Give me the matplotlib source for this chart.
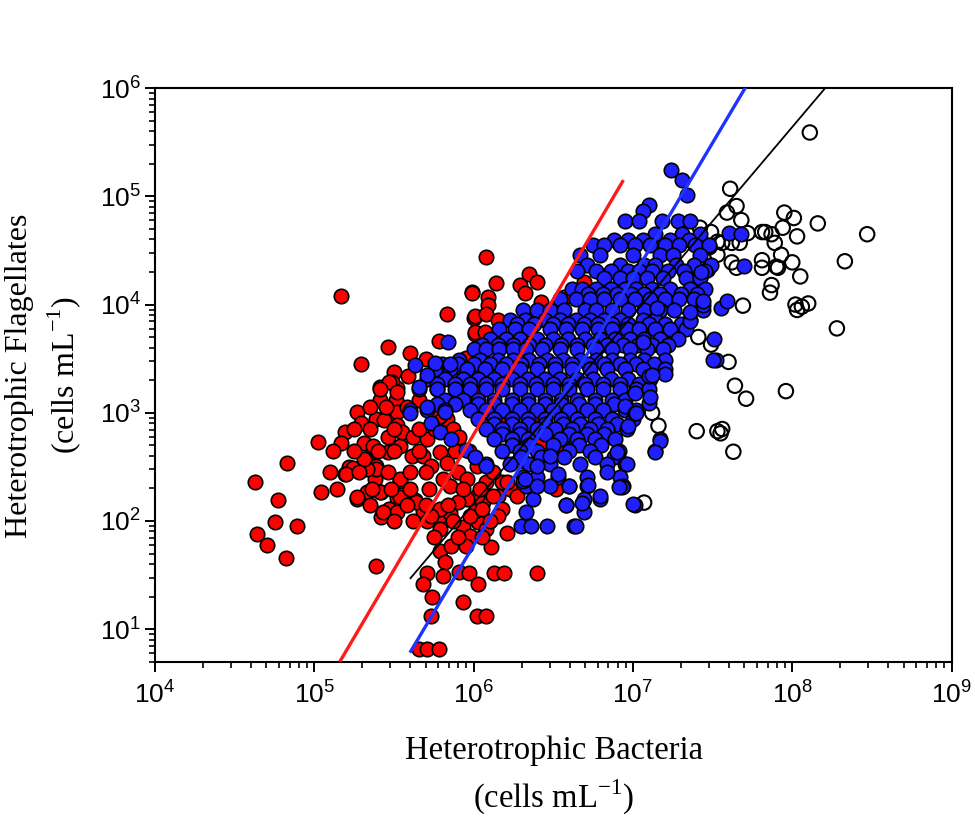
import numpy as np
import matplotlib
matplotlib.use("Agg")
import matplotlib.pyplot as plt
from matplotlib.ticker import LogLocator, FuncFormatter, NullFormatter

plt.rcParams['font.family'] = ['Liberation Serif', 'DejaVu Serif']
plt.rcParams['mathtext.fontset'] = 'custom'
plt.rcParams['mathtext.rm'] = 'Liberation Serif'
plt.rcParams['mathtext.sf'] = 'Liberation Sans'

# (log10 bacteria, log10 flagellates), cells mL-1
red_pts = [
    (5.17, 4.08), (5.46, 3.61), (5.29, 3.45), (5.99, 4.12), (5.83, 3.91), (6.00, 3.88), (6.01, 3.73),
    (5.78, 3.66), (5.95, 3.51), (5.50, 3.38), (5.59, 3.34), (5.80, 3.35), (5.41, 3.24), (5.52, 3.23),
    (5.41, 3.12), (5.51, 3.12), (5.27, 3.01), (5.29, 2.91), (5.39, 2.94), (5.44, 2.93), (5.19, 2.82),
    (5.02, 2.73), (5.17, 2.72), (5.31, 2.72), (5.37, 2.69), (5.46, 2.64), (5.54, 2.69), (4.83, 2.54),
    (5.33, 2.57), (5.22, 2.50), (4.63, 2.36), (4.77, 2.19), (5.04, 2.27), (5.27, 2.20), (4.75, 1.99),
    (4.89, 1.95), (4.64, 1.88), (4.70, 1.78), (4.82, 1.66), (5.39, 1.58), (5.19, 2.43), (5.24, 2.49),
    (5.32, 2.57), (5.39, 2.51), (5.38, 2.39), (5.42, 2.27), (5.52, 2.21), (5.47, 2.11), (5.42, 2.04),
    (5.54, 2.37), (5.63, 2.19), (5.68, 2.09), (5.71, 2.00), (5.78, 2.04), (5.79, 1.93), (5.85, 2.07),
    (5.79, 1.72), (5.82, 1.62), (5.71, 1.52), (5.68, 1.42), (5.81, 1.49), (5.74, 1.30), (5.73, 1.12),
    (5.91, 1.53), (5.97, 1.52), (5.86, 1.77), (5.93, 1.94), (5.98, 1.86), (6.03, 1.99), (5.95, 1.77),
    (6.03, 1.42), (5.93, 1.25), (6.02, 1.12), (6.08, 1.12), (6.11, 1.76), (6.08, 1.93), (6.21, 1.89),
    (6.13, 1.52), (6.19, 1.52), (6.40, 1.52), (5.66, 0.82), (5.71, 0.82), (5.78, 0.82), (6.06, 2.18),
    (6.15, 2.23), (6.18, 2.36), (6.23, 2.30), (6.01, 2.09), (6.52, 2.30), (6.42, 2.96), (6.43, 2.73),
    (6.56, 2.68), (6.08, 4.44), (6.14, 4.20), (5.99, 4.11), (6.09, 4.07), (6.09, 4.00), (6.01, 3.89),
    (6.08, 3.91), (6.15, 3.86), (6.29, 4.18), (6.35, 4.28), (6.40, 4.21), (6.32, 4.11), (6.42, 4.02),
    (6.57, 4.07), (6.69, 4.21), (6.01, 3.75), (6.07, 3.75),
    (5.49, 3.28), (5.52, 3.01), (5.52, 2.89), (5.46, 2.78), (5.55, 2.82), (5.62, 2.78), (5.61, 2.60),
    (5.71, 2.76), (5.68, 2.60), (5.73, 2.51), (5.79, 2.64), (5.83, 2.94), (5.87, 2.85), (5.91, 2.78),
    (5.83, 2.54), (5.90, 2.45), (5.81, 2.39), (5.85, 2.32), (5.96, 2.39), (6.02, 2.51), (6.08, 2.36),
    (6.12, 2.23), (6.02, 2.23), (5.96, 2.20), (5.90, 2.18), (5.79, 2.11), (5.73, 2.05), (5.64, 2.18),
    (5.54, 2.22), (5.52, 2.08), (5.43, 2.08), (5.41, 2.27), (5.33, 2.27), (5.27, 2.22), (5.39, 2.48),
    (5.33, 2.48), (5.31, 2.57), (5.20, 2.43), (5.54, 2.39), (6.18, 2.11), (6.21, 2.36), (6.27, 2.23),
    (6.15, 2.05), (5.98, 2.05), (6.05, 2.11), (5.79, 2.97), (5.73, 3.03), (5.66, 3.12), (5.77, 3.22),
    (5.79, 3.34), (5.47, 3.28), (5.41, 3.22), (5.52, 3.19),
    (5.70, 3.50), (5.60, 3.55), (5.90, 3.30), (6.00, 3.20), (6.10, 3.00), (6.20, 2.90), (6.25, 2.70),
    (6.30, 2.55), (6.35, 2.35),
    (5.35, 3.05), (5.45, 3.05), (5.58, 3.05), (5.25, 2.85), (5.35, 2.85), (5.50, 2.85), (5.66, 2.85),
    (5.76, 2.85), (5.12, 2.65), (5.25, 2.65), (5.40, 2.65), (5.50, 2.65), (5.66, 2.65), (5.88, 2.65),
    (5.97, 2.65), (5.10, 2.45), (5.28, 2.45), (5.46, 2.45), (5.60, 2.45), (5.70, 2.45), (6.12, 2.45),
    (5.14, 2.30), (5.36, 2.30), (5.48, 2.30), (5.60, 2.30), (5.72, 2.30), (5.93, 2.30), (6.04, 2.30),
    (5.35, 2.15), (5.58, 2.15), (5.70, 2.15), (5.84, 2.15), (5.50, 2.00), (5.62, 2.00), (5.87, 2.00),
    (6.10, 2.00), (5.75, 1.85), (5.90, 1.85), (6.05, 1.85),
]

blue_pts = [
    (7.24, 5.24), (7.31, 5.15), (7.34, 5.01), (7.10, 4.92), (7.06, 4.86),
    (6.95, 4.77), (7.04, 4.77), (7.18, 4.77), (7.28, 4.77), (7.36, 4.77),
    (7.14, 4.65), (7.31, 4.65), (7.42, 4.65),
    (6.88, 4.60), (6.97, 4.60), (7.06, 4.60), (7.23, 4.60), (7.35, 4.60),
    (6.75, 4.55), (6.82, 4.55), (6.92, 4.55), (7.01, 4.55), (7.11, 4.55), (7.20, 4.55), (7.29, 4.55),
    (7.39, 4.55), (7.48, 4.55),
    (6.67, 4.46), (6.79, 4.46), (7.00, 4.46), (7.17, 4.46), (7.25, 4.46), (7.42, 4.46),
    (6.71, 4.37), (6.92, 4.37), (7.07, 4.37), (7.14, 4.37), (7.27, 4.37), (7.38, 4.37), (7.49, 4.37),
    (6.65, 4.31), (6.77, 4.31), (6.86, 4.31), (6.97, 4.31), (7.04, 4.31), (7.12, 4.31), (7.22, 4.31),
    (7.32, 4.31), (7.45, 4.31),
    (6.82, 4.25), (6.92, 4.25), (7.00, 4.25), (7.09, 4.25), (7.19, 4.25), (7.33, 4.25), (7.42, 4.25),
    (6.62, 4.14), (6.68, 4.14), (6.77, 4.14), (6.86, 4.14), (6.95, 4.14), (7.02, 4.14), (7.12, 4.14),
    (7.23, 4.14), (7.36, 4.14), (7.45, 4.14),
    (6.72, 4.10), (6.81, 4.10), (6.90, 4.10), (6.99, 4.10), (7.07, 4.10), (7.17, 4.10), (7.30, 4.10),
    (7.40, 4.10),
    (6.54, 4.05), (6.64, 4.05), (6.73, 4.05), (6.82, 4.05), (6.92, 4.05), (7.01, 4.05), (7.11, 4.05),
    (7.20, 4.05), (7.29, 4.05), (7.38, 4.05),
    (6.31, 3.95), (6.40, 3.95), (6.48, 3.95), (6.57, 3.95), (6.70, 3.95), (6.77, 3.95), (6.87, 3.95),
    (6.97, 3.95), (7.07, 3.95), (7.17, 3.95), (7.26, 3.95), (7.44, 3.95),
    (6.23, 3.86), (6.32, 3.86), (6.45, 3.86), (6.54, 3.86), (6.64, 3.86), (6.73, 3.86), (6.82, 3.86),
    (6.92, 3.86), (7.06, 3.86), (7.14, 3.86), (7.36, 3.86),
    (6.27, 3.82), (6.38, 3.82), (6.50, 3.82), (6.59, 3.82), (6.69, 3.82), (6.78, 3.82), (6.87, 3.82),
    (6.97, 3.82), (7.10, 3.82), (7.20, 3.82), (7.30, 3.82),
    (6.16, 3.77), (6.26, 3.77), (6.35, 3.77), (6.48, 3.77), (6.58, 3.77), (6.68, 3.77), (6.78, 3.77),
    (6.87, 3.77), (6.96, 3.77), (7.04, 3.77), (7.14, 3.77), (7.23, 3.77), (7.33, 3.77),
    (6.10, 3.68), (6.20, 3.68), (6.29, 3.68), (6.40, 3.68), (6.50, 3.68), (6.59, 3.68), (6.70, 3.68),
    (6.79, 3.68), (6.89, 3.68), (6.98, 3.68), (7.07, 3.68), (7.17, 3.68), (7.28, 3.68), (7.51, 3.68),
    (6.05, 3.63), (6.15, 3.63), (6.25, 3.63), (6.35, 3.63), (6.45, 3.63), (6.55, 3.63), (6.65, 3.63),
    (6.75, 3.63), (6.84, 3.63), (6.94, 3.63), (7.03, 3.63), (7.12, 3.63), (7.22, 3.63),
    (6.00, 3.59), (6.08, 3.59), (6.16, 3.59), (6.25, 3.59), (6.33, 3.59), (6.43, 3.59), (6.54, 3.59),
    (6.65, 3.59), (6.77, 3.59), (6.87, 3.59), (6.98, 3.59), (7.09, 3.59), (7.19, 3.59),
    (5.91, 3.49), (6.04, 3.49), (6.15, 3.49), (6.25, 3.49), (6.35, 3.49), (6.46, 3.49), (6.56, 3.49),
    (6.67, 3.49), (6.77, 3.49), (6.87, 3.49), (6.98, 3.49), (7.07, 3.49), (7.20, 3.49), (7.52, 3.49),
    (5.80, 3.45), (5.90, 3.45), (6.00, 3.45), (6.10, 3.45), (6.20, 3.45), (6.30, 3.45), (6.41, 3.45),
    (6.51, 3.45), (6.62, 3.45), (6.72, 3.45), (6.82, 3.45), (6.92, 3.45), (7.02, 3.45), (7.13, 3.45),
    (5.76, 3.40), (5.85, 3.40), (5.96, 3.40), (6.07, 3.40), (6.18, 3.40), (6.29, 3.40), (6.40, 3.40),
    (6.51, 3.40), (6.62, 3.40), (6.73, 3.40), (6.84, 3.40), (6.95, 3.40), (7.06, 3.40), (7.20, 3.40),
    (5.71, 3.31), (5.82, 3.31), (5.93, 3.31), (6.03, 3.31), (6.13, 3.31), (6.24, 3.31), (6.34, 3.31),
    (6.45, 3.31), (6.54, 3.31), (6.65, 3.31), (6.75, 3.31), (6.86, 3.31), (6.97, 3.31), (7.11, 3.31),
    (5.77, 3.27), (5.88, 3.27), (5.98, 3.27), (6.08, 3.27), (6.18, 3.27), (6.29, 3.27), (6.39, 3.27),
    (6.50, 3.27), (6.60, 3.27), (6.70, 3.27), (6.81, 3.27), (6.92, 3.27), (7.04, 3.27),
    (5.66, 3.22), (5.77, 3.22), (5.88, 3.22), (5.98, 3.22), (6.08, 3.22), (6.18, 3.22), (6.29, 3.22),
    (6.40, 3.22), (6.50, 3.22), (6.60, 3.22), (6.71, 3.22), (6.81, 3.22), (6.92, 3.22), (7.02, 3.22),
    (7.10, 3.22),
    (5.82, 3.12), (5.93, 3.12), (6.03, 3.12), (6.13, 3.12), (6.24, 3.12), (6.34, 3.12), (6.45, 3.12),
    (6.55, 3.12), (6.65, 3.12), (6.76, 3.12), (6.87, 3.12), (6.95, 3.12),
    (5.77, 3.08), (5.88, 3.08), (6.03, 3.08), (6.13, 3.08), (6.24, 3.08), (6.34, 3.08), (6.45, 3.08),
    (6.55, 3.08), (6.66, 3.08), (6.76, 3.08), (6.88, 3.08),
    (5.60, 3.03), (5.71, 3.03), (5.82, 3.03), (5.98, 3.03), (6.08, 3.03), (6.18, 3.03), (6.29, 3.03),
    (6.40, 3.03), (6.50, 3.03), (6.60, 3.03), (6.71, 3.03), (6.81, 3.03), (6.95, 3.03), (7.02, 3.03),
    (6.03, 2.94), (6.13, 2.94), (6.24, 2.94), (6.34, 2.94), (6.45, 2.94), (6.55, 2.94), (6.65, 2.94),
    (6.76, 2.94), (6.87, 2.94), (7.00, 2.94),
    (6.13, 2.90), (6.24, 2.90), (6.34, 2.90), (6.45, 2.90), (6.56, 2.90), (6.67, 2.90), (6.78, 2.90),
    (6.90, 2.90),
    (6.08, 2.85), (6.18, 2.85), (6.29, 2.85), (6.40, 2.85), (6.51, 2.85), (6.62, 2.85), (6.73, 2.85),
    (6.84, 2.85), (6.96, 2.85),
    (6.18, 2.80), (6.29, 2.80), (6.45, 2.80), (6.60, 2.80), (6.71, 2.80), (6.82, 2.80),
    (6.13, 2.76), (6.24, 2.76), (6.34, 2.76), (6.54, 2.76), (6.65, 2.76), (6.76, 2.76), (6.89, 2.76),
    (7.17, 2.76),
    (6.24, 2.70), (6.35, 2.70), (6.50, 2.70), (6.66, 2.70), (6.80, 2.70),
    (6.18, 2.65), (6.29, 2.65), (6.40, 2.65), (6.60, 2.65), (6.73, 2.65), (6.91, 2.65), (7.14, 2.65),
    (6.30, 2.59), (6.42, 2.59), (6.57, 2.59), (6.76, 2.59), (6.88, 2.59),
    (6.08, 2.53), (6.23, 2.53), (6.35, 2.53), (6.48, 2.53), (6.67, 2.53), (6.84, 2.53), (6.95, 2.53),
    (6.31, 2.41), (6.40, 2.41), (6.53, 2.41), (6.71, 2.41), (6.92, 2.41),
    (6.33, 2.32), (6.48, 2.32), (6.60, 2.32), (6.71, 2.32), (6.94, 2.32),
    (6.37, 2.20), (6.69, 2.20), (6.79, 2.20), (6.58, 2.15), (7.01, 2.15), (6.33, 2.08), (6.69, 2.08),
    (6.30, 1.95), (6.36, 1.95), (6.46, 1.95), (6.63, 1.95),
    (7.10, 3.34), (7.20, 3.36), (7.10, 3.09), (7.01, 3.18), (6.95, 3.06), (7.01, 3.00), (6.97, 2.88),
    (7.17, 2.74), (7.14, 2.64), (6.96, 2.53), (6.93, 2.31), (7.00, 2.16), (7.06, 3.65), (7.15, 3.97),
    (7.44, 4.00), (7.55, 3.97), (7.36, 3.85), (7.60, 4.66), (7.68, 4.65), (7.70, 4.36), (7.43, 4.30),
    (7.44, 4.03), (7.59, 4.03), (7.36, 3.93), (5.84, 3.65), (5.63, 3.44), (5.76, 3.46), (5.85, 3.45),
    (5.71, 3.35), (5.66, 3.24), (5.60, 3.00), (5.71, 3.05), (5.82, 3.01), (5.73, 2.91), (5.79, 2.82),
    (5.86, 2.76), (5.95, 2.66), (6.01, 2.59), (6.08, 2.51), (6.31, 2.37), (6.40, 2.51), (6.48, 2.60),
    (6.40, 2.32), (6.53, 2.43), (7.12, 3.35), (7.11, 3.15), (7.02, 3.00), (6.90, 2.64), (6.84, 2.45),
    (6.91, 2.31), (6.79, 2.23), (6.72, 2.33), (6.60, 2.32), (6.58, 2.15), (6.68, 2.17), (6.64, 1.95),
    (6.32, 2.39), (7.50, 3.49),
]

open_pts = [
    (8.11, 5.59), (8.47, 4.65), (8.16, 4.75), (8.33, 4.40), (7.61, 5.07), (7.65, 4.91), (7.59, 4.85),
    (7.68, 4.78), (7.72, 4.66), (7.81, 4.67), (7.87, 4.65), (7.95, 4.85), (8.01, 4.80), (7.94, 4.71),
    (8.03, 4.63), (7.89, 4.57), (7.93, 4.46), (7.81, 4.41), (7.81, 4.34), (7.90, 4.35), (8.00, 4.39),
    (8.05, 4.26), (7.87, 4.18), (7.86, 4.11), (8.10, 4.01), (8.03, 3.95), (8.02, 4.00), (7.56, 4.57),
    (7.62, 4.57), (7.67, 4.57), (7.48, 4.53), (7.53, 4.46), (7.62, 4.39), (7.65, 4.34), (7.39, 4.23),
    (7.47, 4.32), (7.69, 3.99), (7.34, 3.97), (7.26, 3.74), (7.41, 3.70), (7.49, 3.63), (7.60, 3.47),
    (7.64, 3.25), (7.71, 3.13), (7.96, 3.20), (7.40, 2.83), (7.56, 2.85), (7.55, 2.81), (7.63, 2.64),
    (7.12, 3.00), (7.16, 2.88), (7.07, 2.17), (8.06, 3.98), (8.28, 3.78), (7.46, 4.53), (7.38, 4.26),
    (7.42, 4.26), (7.53, 4.58), (7.53, 2.83), (7.83, 4.67), (7.91, 4.34), (7.42, 4.71), (7.49, 4.67),
]

# regression lines: log F = slope * log B + intercept, over the plotted range of log B
fit_red = (2.50, -12.20, 5.16, 6.94)
fit_blue = (2.48, -13.105, 5.60, 7.71)
fit_all = (1.74, -8.279, 5.60, 8.21)

fig = plt.figure(figsize=(9.75, 8.16), dpi=100)
ax = fig.add_axes([0.159, 0.189, 0.817, 0.703])

mk = dict(s=108, edgecolors='black', linewidths=1.2)
ox, oy = np.array(open_pts).T
rx, ry = np.array(red_pts).T
bx, by = np.array(blue_pts).T
ax.scatter(10**ox, 10**oy, facecolors='none', zorder=2, s=108, edgecolors='black', linewidths=1.5)
ax.scatter(10**rx, 10**ry, facecolors='#ff0000', zorder=3, **mk)
ax.scatter(10**bx, 10**by, facecolors='#2020ff', zorder=4, **mk)

for (m, b, lo, hi), col, lw in [(fit_red, '#ff1a1a', 2.4), (fit_blue, '#1f33ff', 2.4), (fit_all, 'black', 1.3)]:
    lx = np.array([lo, hi])
    ax.plot(10**lx, 10**(m*lx + b), color=col, lw=lw, zorder=5, solid_capstyle='butt')

ax.set_xscale('log')
ax.set_yscale('log')
ax.set_xlim(1e4, 1e9)
ax.set_ylim(5, 1e6)

fmt = FuncFormatter(lambda v, pos: r'$\mathsf{10^{%d}}$' % round(np.log10(v)))
for axis in (ax.xaxis, ax.yaxis):
    axis.set_major_locator(LogLocator(base=10, numticks=20))
    axis.set_minor_locator(LogLocator(base=10, subs=np.arange(2, 10), numticks=20))
    axis.set_major_formatter(fmt)
    axis.set_minor_formatter(NullFormatter())

ax.tick_params(which='major', direction='out', length=7, width=1.4, labelsize=19)
ax.tick_params(which='minor', direction='out', length=4, width=1.2)
ax.tick_params(axis='x', which='major', pad=7)
ax.tick_params(axis='y', which='major', pad=3)
for sp in ax.spines.values():
    sp.set_linewidth(1.5)

fig.text(0.5677, 0.0797, 'Heterotrophic Bacteria', ha='center', va='center', fontsize=23.5)
fig.text(0.5677, 0.0233, r'(cells mL$^{\mathrm{-1}}$)', ha='center', va='center', fontsize=23.5)
fig.text(0.0205, 0.540, 'Heterotrophic Flagellates', ha='center', va='center', rotation=90, fontsize=23)
fig.text(0.066, 0.540, r'(cells mL$^{\mathrm{-1}}$)', ha='center', va='center', rotation=90, fontsize=23)

fig.savefig('out.png', dpi=100)
